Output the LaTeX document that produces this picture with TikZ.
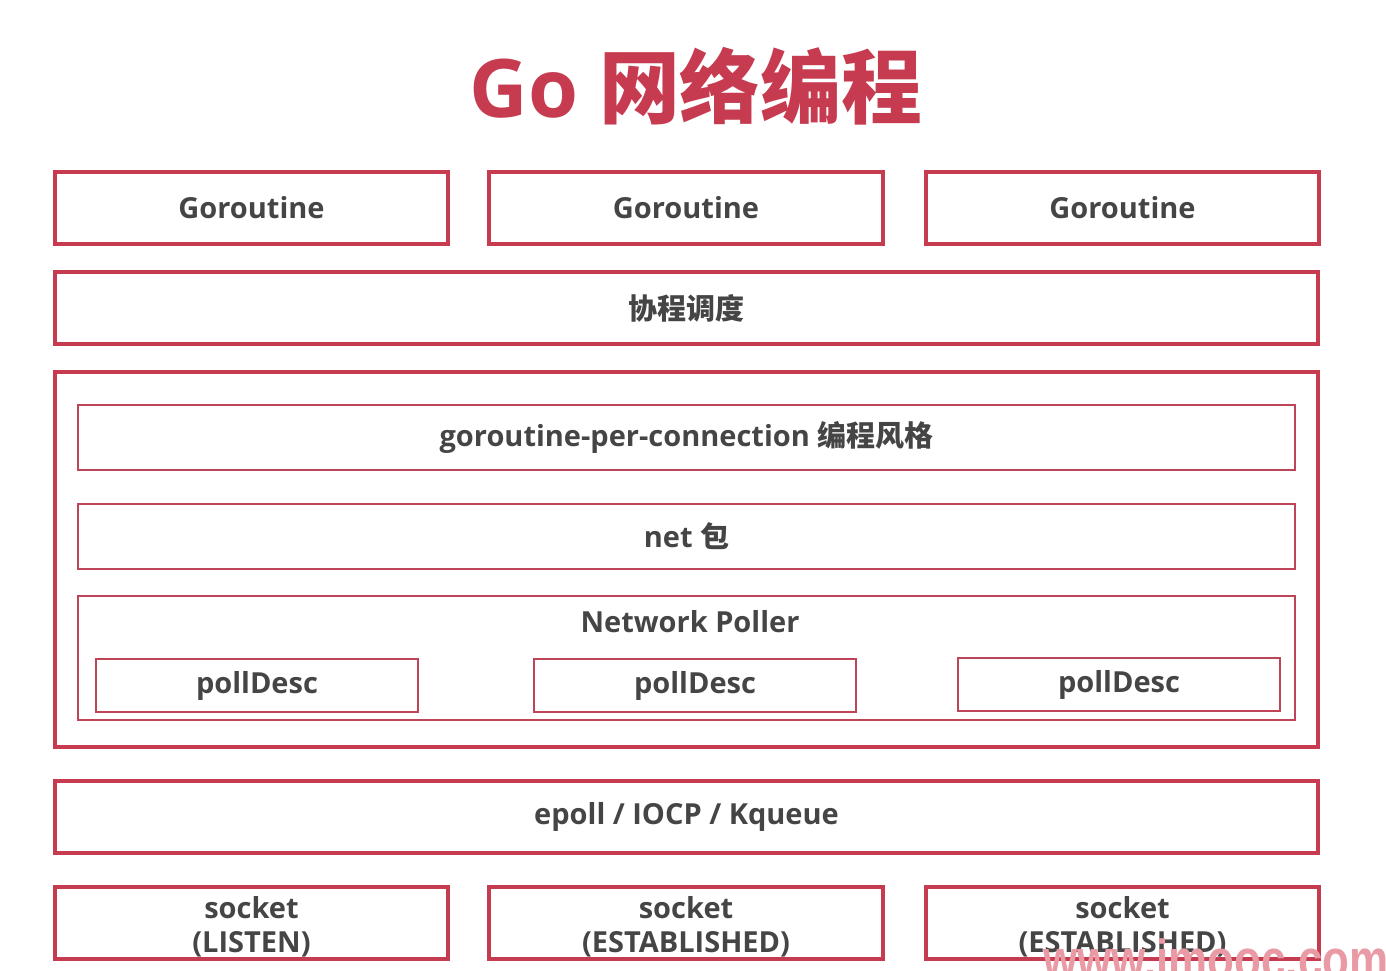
\documentclass[tikz,border=0pt]{standalone}
\usepackage{fontspec}
\setmainfont{Open Sans}
\newfontfamily\cjk{Noto Sans CJK SC}
\newfontfamily\markfont{Liberation Sans}
\definecolor{gored}{HTML}{C63B50}
\definecolor{goinner}{HTML}{BE4558}
\definecolor{gotext}{HTML}{454545}
\definecolor{gomark}{HTML}{E99AA5}

\begin{document}
\begin{tikzpicture}[
    box/.style={draw=gored,line width=2.3pt,minimum height=1.44cm,inner sep=0pt,
        font=\fontsize{16.5}{19.5}\selectfont\bfseries,text=gotext},
    inbox/.style={draw=goinner,line width=1.4pt,inner sep=0pt,
        font=\fontsize{16.5}{19.5}\selectfont\bfseries,text=gotext},
    lbl/.style={font=\fontsize{16.5}{19.5}\selectfont\bfseries,text=gotext},
    sock/.style={box,minimum width=7.86cm,label={[lbl,align=center,yshift=-0.08cm]center:#1}}]
    \useasboundingbox (0,0) rectangle (27.72,-19.4);
    % title
    \node (title) at (13.92,-1.72) [text=gored,font=\fontsize{46}{50}\selectfont\bfseries]{Go {\cjk 网络编程}};
    % goroutines
    \node (g1) at (5.03,-4.16) [box,minimum width=7.86cm]{Goroutine};
    \node (g2) at (13.72,-4.16) [box,minimum width=7.88cm]{Goroutine};
    \node (g3) at (22.45,-4.16) [box,minimum width=7.86cm]{Goroutine};
    \node (sched) at (13.73,-6.16) [box,minimum width=25.26cm]{\cjk 协程调度};
    % runtime part
    \node (outer) at (13.73,-11.19) [box,minimum width=25.26cm,minimum height=7.5cm]{};
    \node (gpc) at (13.73,-8.75) [inbox,minimum width=24.34cm,minimum height=1.3cm]{goroutine-per-connection {\cjk 编程风格}};
    \node (net) at (13.73,-10.73) [inbox,minimum width=24.34cm,minimum height=1.3cm]{net {\cjk 包}};
    \node (poller) at (13.73,-13.16) [inbox,minimum width=24.34cm,minimum height=2.48cm]{};
    \node (pollname) at (13.8,-12.44) [lbl]{Network Poller};
    \node (pd1) at (5.14,-13.71) [inbox,minimum width=6.44cm,minimum height=1.06cm]{pollDesc};
    \node (pd2) at (13.9,-13.71) [inbox,minimum width=6.44cm,minimum height=1.06cm]{pollDesc};
    \node (pd3) at (22.38,-13.69) [inbox,minimum width=6.44cm,minimum height=1.06cm]{pollDesc};
    % os part
    \node (epoll) at (13.73,-16.34) [box,minimum width=25.26cm]{epoll / IOCP / Kqueue};
    \node (s1) at (5.03,-18.46) [sock={socket\\(LISTEN)}]{};
    \node (s2) at (13.72,-18.46) [sock={socket\\(ESTABLISHED)},minimum width=7.88cm]{};
    \node (s3) at (22.45,-18.46) [sock={socket\\(ESTABLISHED)}]{};
    \node (mark) at (20.86,-19.56) [anchor=base west,inner sep=0pt,yscale=1.25,transform shape,
        text=gomark,font=\markfont\fontsize{25}{27}\selectfont\bfseries]{www.imooc.com};
\end{tikzpicture}
\end{document}
